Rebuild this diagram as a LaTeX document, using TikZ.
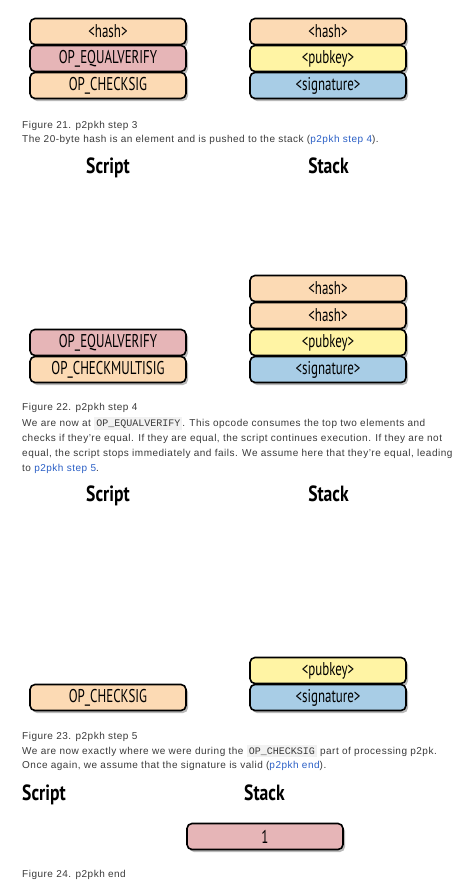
\documentclass[tikz,border=0pt]{standalone}
\usepackage{fontspec}
\setmainfont[LetterSpace=5]{Liberation Sans}
\newfontfamily\boxfont[FakeStretch=0.7]{PT Sans}
\newfontfamily\headfont[FakeStretch=0.8]{PT Sans}
\newfontfamily\codefont{Liberation Mono}
\usepackage{tikz}
\usetikzlibrary{
        positioning,
        shadows
    }
\definecolor{peach}{HTML}{FCDAB4}
\definecolor{rose}{HTML}{E6B5B7}
\definecolor{lemon}{HTML}{FFF4A4}
\definecolor{sky}{HTML}{A8CDE6}
\definecolor{bodytext}{HTML}{3A3A3A}
\definecolor{linkblue}{HTML}{2A5FC6}
\definecolor{codegray}{HTML}{F2F2F2}
\tikzset{
    cell/.style={draw=black,line width=1.6pt,rounded corners=5pt,
        minimum width=156pt,minimum height=26pt,inner sep=0pt,
        font=\boxfont\fontsize{18.5}{18.5}\selectfont,
        drop shadow={shadow xshift=2pt,shadow yshift=-2.5pt,fill=black!50,opacity=.55}},
    head/.style={anchor=base,inner sep=0pt,font=\headfont\bfseries\fontsize{22}{22}\selectfont},
    txt/.style={anchor=base west,inner sep=0pt,text=bodytext,font=\fontsize{10}{12}\selectfont}
}
\newcommand{\opcode}[1]{{\setlength{\fboxsep}{2pt}\colorbox{codegray}{\codefont #1}}}
\newcommand{\xref}[1]{\textcolor{linkblue}{#1}}

\begin{document}
\begin{tikzpicture}[x=1pt,y=-1pt,node distance=27pt]
                \useasboundingbox[fill=white] (0,0) rectangle (472,886);
                % figure 21
                \node[cell,fill=peach] (sa1) at (108,31.5) {<hash>};
                \node[cell,fill=rose]  (sa2)  [below of=sa1]  {OP\_EQUALVERIFY};
                \node[cell,fill=peach] (sa3)  [below of=sa2]  {OP\_CHECKSIG};
                \node[cell,fill=peach] (ka1) at (328,31.5) {<hash>};
                \node[cell,fill=lemon] (ka2)  [below of=ka1]  {<pubkey>};
                \node[cell,fill=sky]   (ka3)  [below of=ka2]  {<signature>};
                \node[txt] (cap21) at (22,128) {Figure 21. p2pkh step 3};
                \node[txt] (t21a) at (22,142.7) {The 20-byte hash is an element and is pushed to the stack (\xref{p2pkh step 4}).};
                \node[head] (hs21) at (108,173.3) {Script};
                \node[head] (hk21) at (328.5,173.3) {Stack};
                % figure 22
                \node[cell,fill=peach] (kb1) at (328,288.5) {<hash>};
                \node[cell,fill=peach] (kb2)  [below of=kb1]  {<hash>};
                \node[cell,fill=lemon] (kb3)  [below of=kb2]  {<pubkey>};
                \node[cell,fill=sky]   (kb4)  [below of=kb3]  {<signature>};
                \node[cell,fill=rose]  (sb1) at (108,342.5) {OP\_EQUALVERIFY};
                \node[cell,fill=peach] (sb2)  [below of=sb1]  {OP\_CHECKMULTISIG};
                \node[txt] (cap22) at (22,410.7) {Figure 22. p2pkh step 4};
                \node[txt] (t22a) at (22,426) {We are now at \opcode{OP\_EQUALVERIFY}. This opcode consumes the top two elements and};
                \node[txt] (t22b) at (22,441) {checks if they’re equal. If they are equal, the script continues execution. If they are not};
                \node[txt] (t22c) at (22,456) {equal, the script stops immediately and fails. We assume here that they’re equal, leading};
                \node[txt] (t22d) at (22,471) {to \xref{p2pkh step 5}.};
                \node[head] (hs22) at (108,501.7) {Script};
                \node[head] (hk22) at (328.5,501.7) {Stack};
                % figure 23
                \node[cell,fill=lemon] (kc1) at (328,670.5) {<pubkey>};
                \node[cell,fill=sky]   (kc2)  [below of=kc1]  {<signature>};
                \node[cell,fill=peach] (sc1) at (108,697.5) {OP\_CHECKSIG};
                \node[txt] (cap23) at (22,739.3) {Figure 23. p2pkh step 5};
                \node[txt] (t23a) at (22,754) {We are now exactly where we were during the \opcode{OP\_CHECKSIG} part of processing p2pk.};
                \node[txt] (t23b) at (22,768.7) {Once again, we assume that the signature is valid (\xref{p2pkh end}).};
                \node[head,anchor=base west] (hs23) at (22,800) {Script};
                \node[head,anchor=base west] (hk23) at (244,800) {Stack};
                % figure 24
                \node[cell,fill=rose] (kd1) at (265,836.5) {1};
                \node[txt] (cap24) at (22,877.7) {Figure 24. p2pkh end};
            \end{tikzpicture}
\end{document}
